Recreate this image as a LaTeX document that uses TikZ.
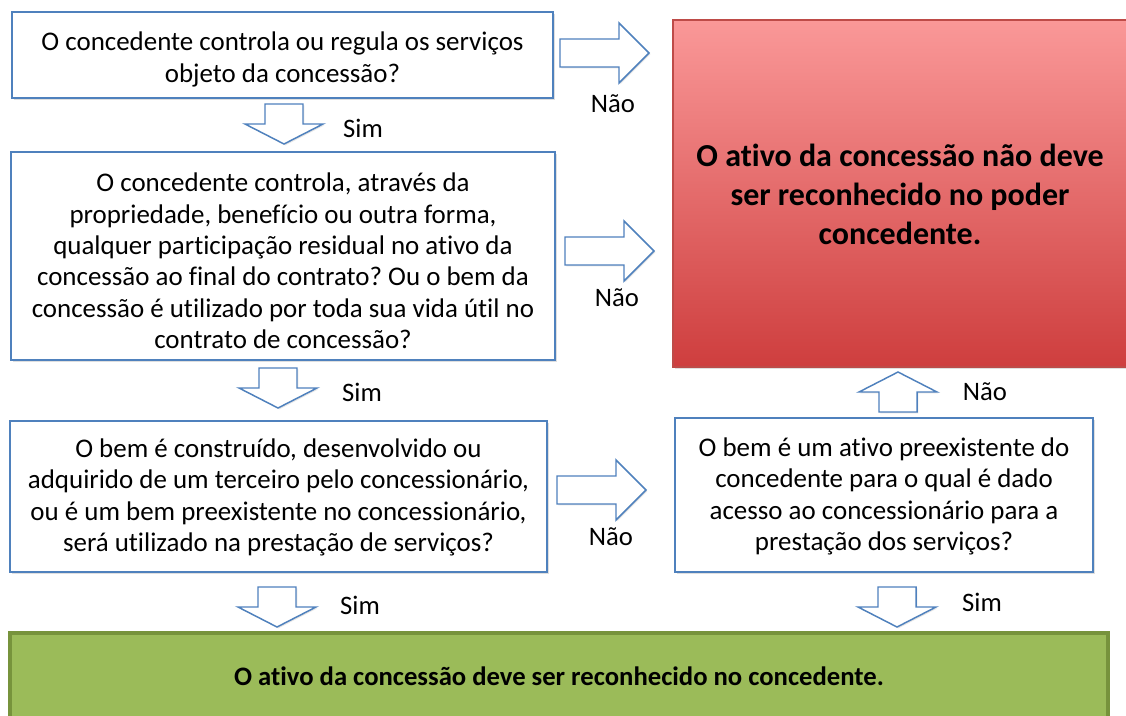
\documentclass[tikz,border=0pt]{standalone}
\usepackage{fontspec}
\setmainfont{Carlito}[Ligatures=NoCommon]
\frenchspacing
\usetikzlibrary{shadows}
\definecolor{bblue}{HTML}{4F81BD}
\definecolor{redtop}{RGB}{250,152,152}
\definecolor{redbot}{RGB}{206,62,62}
\definecolor{redline}{RGB}{190,75,72}
\definecolor{gfill}{HTML}{9BBB59}
\definecolor{gline}{HTML}{77933C}
\tikzset{
  qbox/.style={draw=bblue, line width=1.2pt, fill=white, inner sep=0pt,
    drop shadow={shadow xshift=1.5pt, shadow yshift=-1.5pt, opacity=0.25}},
  qtext/.style={align=center, inner sep=0pt, font=\fontsize{20.2}{23.6}\selectfont},
  lbl/.style={font=\fontsize{20}{22}\selectfont, inner sep=0pt},
  arrowline/.style={draw=bblue, line width=1.1pt, fill=white, line join=miter},
  rarr/.pic={\path[arrowline, drop shadow={shadow xshift=1pt, shadow yshift=-1pt, opacity=0.2}]
      (0,-14) -- (59,-14) -- (59,-30) -- (89,0) -- (59,30) -- (59,14) -- (0,14) -- cycle;},
  darr/.pic={\path[arrowline, drop shadow={shadow xshift=1pt, shadow yshift=-1pt, opacity=0.2}]
      (-19,0) -- (19,0) -- (19,20) -- (39,20) -- (0,40) -- (-39,20) -- (-19,20) -- cycle;}
}
\begin{document}
\begin{tikzpicture}[x=0.75pt,y=-0.75pt]
\clip (0,0) rectangle (1126,715);
\fill[white] (0,0) rectangle (1126,715);

% question boxes
\node[qbox, minimum width=405.75pt, minimum height=64.5pt] (q1) at (282.5,55) {};
\node[qtext] (q1t) at (282.5,59.5)
  {O concedente controla ou regula os serviços\\objeto da concessão?};
\node[qbox, minimum width=408pt, minimum height=156pt] (q2) at (283,256) {};
\node[qtext] (q2t) at (283,261)
  {O concedente controla, através da\\propriedade, benefício ou outra forma,\\qualquer participação residual no ativo da\\concessão ao final do contrato? Ou o bem da\\concessão é utilizado por toda sua vida útil no\\contrato de concessão?};
\node[qbox, minimum width=402.75pt, minimum height=113.25pt] (q3) at (278.5,496.5) {};
\node[qtext] (q3t) at (278.5,497.5)
  {O bem é construído, desenvolvido ou\\adquirido de um terceiro pelo concessionário,\\ou é um bem preexistente no concessionário,\\será utilizado na prestação de serviços?};
\node[qbox, minimum width=313.5pt, minimum height=115.5pt] (q4) at (884,495) {};
\node[qtext] (q4t) at (884,496.5)
  {O bem é um ativo preexistente do\\concedente para o qual é dado\\acesso ao concessionário para a\\prestação dos serviços?};

% red result box
\node[draw=redline, line width=0.8pt, top color=redtop, bottom color=redbot,
  minimum width=346.5pt, minimum height=260.25pt,
  drop shadow={shadow xshift=1.5pt, shadow yshift=-1.5pt, opacity=0.25}] (rno) at (904,193.5) {};
\node[align=center, inner sep=0pt, font=\fontsize{24}{29.25}\selectfont\bfseries] (rnot) at (900,194)
  {O ativo da concessão não deve\\ser reconhecido no poder\\concedente.};

% green result box
\node[draw=gline, line width=3pt, fill=gfill, minimum width=823.5pt, minimum height=65.25pt,
  font=\fontsize{20}{22}\selectfont\bfseries] (gyes) at (559,676.5)
  {O ativo da concessão deve ser reconhecido no concedente.};

% block arrows
\pic at (560,53) {rarr};
\pic at (565,251) {rarr};
\pic at (557,490) {rarr};
\pic at (284,104) {darr};
\pic at (278,368) {darr};
\pic at (277,587) {darr};
\pic at (897,587) {darr};
\pic[rotate=180] at (898,412) {darr};

% labels
\node[lbl] (n1) at (613,104) {Não};
\node[lbl] (n2) at (617,298) {Não};
\node[lbl] (n3) at (611,537) {Não};
\node[lbl] (n4) at (985,392) {Não};
\node[lbl] (s1) at (363,128) {Sim};
\node[lbl] (s2) at (362,392) {Sim};
\node[lbl] (s3) at (360,605) {Sim};
\node[lbl] (s4) at (982,602) {Sim};
\end{tikzpicture}
\end{document}
